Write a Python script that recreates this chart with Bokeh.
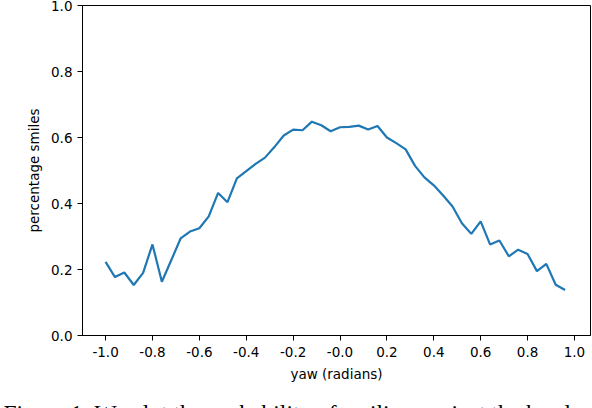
from bokeh.plotting import figure
from bokeh.models import Range1d, FixedTicker, Title
from bokeh.embed import file_html
from bokeh.resources import INLINE

yaw = [-1.00, -0.96, -0.92, -0.88, -0.84, -0.80, -0.76, -0.72, -0.68, -0.64,
       -0.60, -0.56, -0.52, -0.48, -0.44, -0.40, -0.36, -0.32, -0.28, -0.24,
       -0.20, -0.16, -0.12, -0.08, -0.04, 0.00, 0.04, 0.08, 0.12, 0.16,
       0.20, 0.24, 0.28, 0.32, 0.36, 0.40, 0.44, 0.48, 0.52, 0.56,
       0.60, 0.64, 0.68, 0.72, 0.76, 0.80, 0.84, 0.88, 0.92, 0.96]
smiles = [0.223, 0.177, 0.191, 0.153, 0.190, 0.276, 0.163, 0.228, 0.294, 0.315,
          0.325, 0.361, 0.432, 0.404, 0.476, 0.498, 0.520, 0.539, 0.571, 0.606,
          0.624, 0.622, 0.648, 0.637, 0.619, 0.631, 0.632, 0.636, 0.624, 0.635,
          0.600, 0.583, 0.564, 0.514, 0.479, 0.455, 0.424, 0.391, 0.340, 0.308,
          0.346, 0.276, 0.288, 0.240, 0.260, 0.247, 0.195, 0.217, 0.154, 0.138]

x_ticks = [-1.0, -0.8, -0.6, -0.4, -0.2, 0.0, 0.2, 0.4, 0.6, 0.8, 1.0]
x_tick_labels = ["-1.0", "-0.8", "-0.6", "-0.4", "-0.2", "-0.0", "0.2", "0.4", "0.6", "0.8", "1.0"]
y_ticks = [0.0, 0.2, 0.4, 0.6, 0.8, 1.0]
y_tick_labels = ["0.0", "0.2", "0.4", "0.6", "0.8", "1.0"]

caption = "Figure 1: We plot the probability of smiling against the head yaw"

p = figure(width=592, height=440, output_backend="svg", toolbar_location=None,
           x_range=Range1d(-1.0985, 1.0685), y_range=Range1d(0, 1),
           min_border_left=82, min_border_right=2, min_border_top=5, min_border_bottom=105)

p.line(yaw, smiles, line_color="#1f77b4", line_width=2.2)

p.xgrid.visible = False
p.ygrid.visible = False
p.outline_line_color = "black"
p.outline_line_width = 1
p.background_fill_color = "white"
p.border_fill_color = "white"

font = "DejaVu Sans"
for ax in (p.xaxis[0], p.yaxis[0]):
    ax.axis_line_color = "black"
    ax.major_tick_line_color = "black"
    ax.minor_tick_line_color = None
    ax.major_tick_out = 5
    ax.major_tick_in = 0
    ax.major_label_text_font = font
    ax.major_label_text_font_size = "13.5px"
    ax.major_label_text_color = "black"
    ax.axis_label_text_font = font
    ax.axis_label_text_font_size = "13.5px"
    ax.axis_label_text_font_style = "normal"
    ax.axis_label_text_color = "black"

p.xaxis.ticker = FixedTicker(ticks=x_ticks)
p.xaxis.major_label_overrides = {t: l for t, l in zip(x_ticks, x_tick_labels)}
p.xaxis.axis_label = "yaw (radians)"
p.xaxis.major_label_standoff = 6
p.xaxis.axis_label_standoff = 6

p.yaxis.ticker = FixedTicker(ticks=y_ticks)
p.yaxis.major_label_overrides = {t: l for t, l in zip(y_ticks, y_tick_labels)}
p.yaxis.axis_label = "percentage smiles"
p.yaxis.major_label_standoff = 5
p.yaxis.axis_label_standoff = 6

# spacer between axis label and the caption
p.add_layout(Title(text=" ", standoff=0, text_font_size="10px"), "below")
p.add_layout(Title(text=caption, align="left", offset=-79, standoff=0,
                   text_font="Liberation Serif", text_font_size="23.5px",
                   text_font_style="normal", text_color="black"), "below")

html = file_html(p, INLINE)
html = html.replace("<head>", "<head><style>html,body{margin:0;padding:0;overflow:hidden}</style>", 1)
open("out.html", "w").write(html)
